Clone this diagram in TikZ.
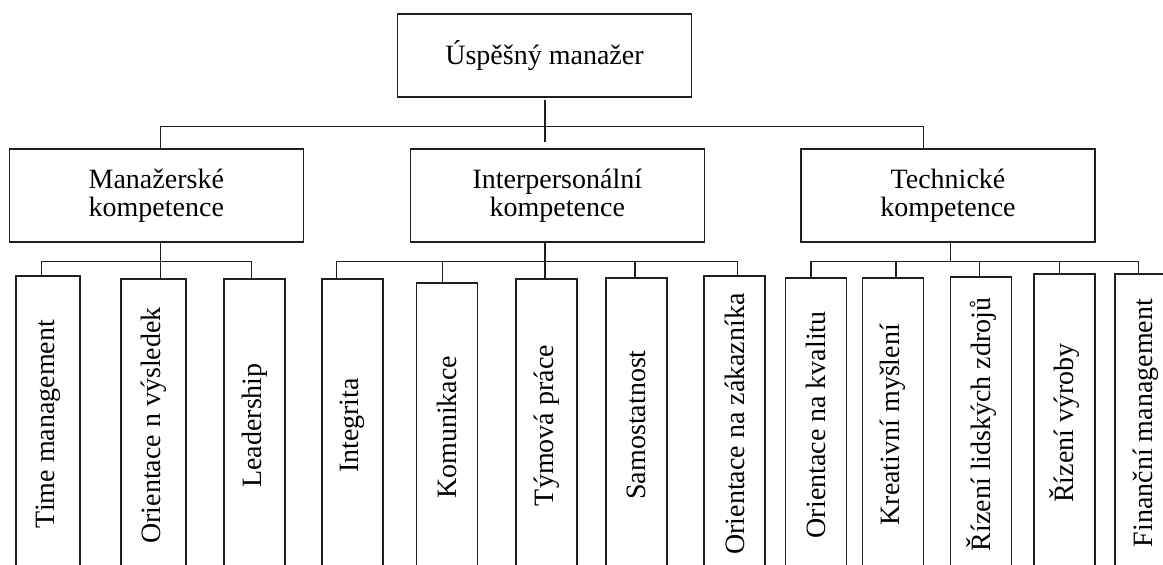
\documentclass[tikz,border=0pt]{standalone}
\usepackage{fontspec}
\setmainfont{Liberation Serif}
\begin{document}
\begin{tikzpicture}[x=1pt,y=-1pt,
  box/.style={draw=black!88, line width=1.5pt, fill=white, inner sep=0pt,
              align=center, font=\fontsize{28}{28}\selectfont},
  head/.style={box, minimum width=294pt, minimum height=93pt},
  leaf/.style={box, rotate=90, minimum height=61pt},
  wire/.style={draw=black!88, line width=1.5pt}]
\useasboundingbox (0,0) rectangle (1163,565);
\clip (0,0) rectangle (1163,565);

% root
\node[box, minimum width=294pt, minimum height=83pt] (root) at (544.5,55.3) {Úspěšný manažer};

% competence groups
\node[head] (man)  at (156.3,195.7) {Manažerské\\kompetence};
\node[head] (inter) at (557.3,195.7) {Interpersonální\\kompetence};
\node[head] (tech) at (948,195.7) {Technické\\kompetence};

% managerial leaves (bottom edge below the frame)
\node[leaf, minimum height=64pt, minimum width=296pt] (m1) at (48,424)    {Time management};
\node[leaf, minimum height=65pt, minimum width=293pt] (m2) at (153.3,425.5) {Orientace n výsledek};
\node[leaf, minimum width=293pt] (m3) at (254.5,425.5) {Leadership};

% interpersonal leaves
\node[leaf, minimum width=293pt] (i1) at (352.5,425.5) {Integrita};
\node[leaf, minimum width=289pt] (i2) at (447.2,427.3) {Komunikace};
\node[leaf, minimum width=293pt] (i3) at (546.7,425.6) {Týmová práce};
\node[leaf, minimum width=294pt] (i4) at (636.3,425)   {Samostatnost};
\node[leaf, minimum width=296pt] (i5) at (734.5,424)   {Orientace na zákazníka};

% technical leaves
\node[leaf, minimum width=294pt] (t1) at (816.2,424.8) {Orientace na kvalitu};
\node[leaf, minimum width=294pt] (t2) at (893,424.8)   {Kreativní myšlení};
\node[leaf, minimum width=295pt] (t3) at (981.2,424.3) {Řízení lidských zdrojů};
\node[leaf, minimum width=298pt] (t4) at (1064.5,423)  {Řízení výroby};
\node[leaf, minimum width=298pt] (t5) at (1145.5,423)  {Finanční management};

% junction points
\coordinate (rA) at (545,100);
\coordinate (rB) at (545,141.7);
\coordinate (tL) at (160.7,126.5);
\coordinate (tR) at (923.7,126.5);

\coordinate (mL) at (41.7,261.7);
\coordinate (mC) at (160.7,261.7);
\coordinate (mR) at (251.7,261.7);

\coordinate (iL) at (336.7,261.7);
\coordinate (i2x) at (442.3,261.7);
\coordinate (iC) at (545,261.7);
\coordinate (i4x) at (635,261.7);
\coordinate (iR) at (737.7,261.7);

\coordinate (tA) at (811,261.7);
\coordinate (tB) at (896,261.7);
\coordinate (tC) at (950.7,261.7);
\coordinate (tD) at (979.3,261.7);
\coordinate (tE) at (1059.3,261.7);
\coordinate (tF) at (1138.3,261.7);

% root to groups
\draw[wire] (rA) -- (rB);
\draw[wire] (tL |- man.north) -- (tL) -- (tR) -- (tR |- tech.north);

% managerial branch
\draw[wire] (mC |- man.south) -- (mC |- m2.east);
\draw[wire] (mL |- m1.east) -- (mL) -- (mR) -- (mR |- m3.east);

% interpersonal branch
\draw[wire] (iC |- inter.south) -- (iC |- i3.east);
\draw[wire] (iL |- i1.east) -- (iL) -- (iR) -- (iR |- i5.east);
\draw[wire] (i2x) -- (i2x |- i2.east);
\draw[wire] (i4x) -- (i4x |- i4.east);

% technical branch
\draw[wire] (tC |- tech.south) -- (tC);
\draw[wire] (tA |- t1.east) -- (tA) -- (tF) -- (tF |- t5.east);
\draw[wire] (tB) -- (tB |- t2.east);
\draw[wire] (tD) -- (tD |- t3.east);
\draw[wire] (tE) -- (tE |- t4.east);
\end{tikzpicture}
\end{document}
